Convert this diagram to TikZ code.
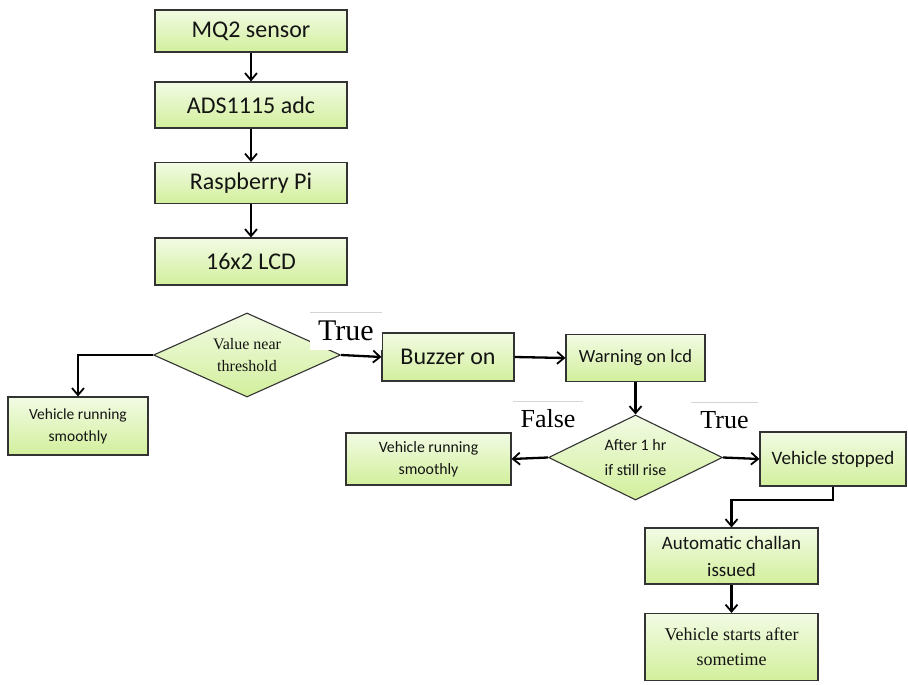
\documentclass[tikz,border=0pt]{standalone}
\usepackage{fontspec}
\setmainfont{Liberation Serif}
\newfontfamily\calib{Carlito}
\usetikzlibrary{shapes.geometric,arrows.meta,calc}
\definecolor{boxtop}{HTML}{F2FBE4}
\definecolor{boxbot}{HTML}{D2EF9C}
\definecolor{boxline}{HTML}{333333}
\definecolor{txt}{HTML}{141414}
\definecolor{faint}{HTML}{D4D4D4}
\tikzset{
  box/.style={draw=boxline, line width=1.1pt, top color=boxtop, bottom color=boxbot,
    align=center, inner sep=2pt, text=txt},
  dia/.style={box, diamond, inner sep=0pt, shading angle=0},
  arr/.style={line width=2.3pt, -{Straight Barb[length=7pt,width=12pt,line width=1.8pt]}},
  lbl/.style={fill=white, inner sep=0pt, text=black, font=\fontsize{26}{30}\selectfont},
  faintline/.style={draw=faint, line width=0.6pt}
}
\begin{document}
\begin{tikzpicture}[x=1pt,y=-1pt]
\useasboundingbox[fill=white] (0,0) rectangle (908,685);

% top chain
\node[box, minimum width=192pt, minimum height=42pt, font=\calib\fontsize{24}{28}\selectfont] (mq2) at (251,31) {MQ2 sensor};
\node[box, minimum width=192pt, minimum height=46pt, font=\calib\fontsize{24}{28}\selectfont] (ads) at (251,105) {ADS1115 adc};
\node[box, minimum width=192pt, minimum height=41pt, font=\calib\fontsize{24}{28}\selectfont] (rpi) at (251,183) {Raspberry Pi};
\node[box, minimum width=192pt, minimum height=47pt, font=\calib\fontsize{24}{28}\selectfont] (lcd) at (251,261.5) {16x2 LCD};
\draw[arr] (mq2.south) -- (ads.north);
\draw[arr] (ads.south) -- (rpi.north);
\draw[arr] (rpi.south) -- (lcd.north);

% first decision
\node[dia, minimum width=187pt, minimum height=84pt, aspect=2.2, font=\fontsize{16}{22}\selectfont] (d1) at (247,355) {Value near\\threshold};
\node[box, minimum width=140pt, minimum height=58pt, font=\calib\fontsize{15.5}{22}\selectfont] (vrs1) at (78,426) {Vehicle running\\smoothly};
\node[box, minimum width=132pt, minimum height=48pt, font=\calib\fontsize{24}{28}\selectfont] (buzz) at (448,357) {Buzzer on};
\node[box, minimum width=139pt, minimum height=47pt, font=\calib\fontsize{18.5}{22}\selectfont] (warn) at (635.5,358) {Warning on lcd};
\node[lbl, minimum width=72pt, minimum height=38pt, font=\fontsize{30}{34}\selectfont] (t1) at (346,331) {True};
\draw[faintline] (t1.north west) -- (t1.north east);

\draw[arr] (d1.west) -| (vrs1.north);
\draw[arr] (d1.east) -- (buzz.west);
\draw[arr] (buzz.east) -- (warn.west);

% second decision
\node[dia, minimum width=174pt, minimum height=85pt, aspect=2.05, font=\calib\fontsize{16}{25}\selectfont] (d2) at (635.5,457.5) {After 1 hr\\if still rise};
\node[box, minimum width=165pt, minimum height=52pt, font=\calib\fontsize{15.8}{22}\selectfont] (vrs2) at (428.5,459) {Vehicle running\\smoothly};
\node[box, minimum width=146pt, minimum height=54pt, font=\calib\fontsize{19}{22}\selectfont] (stop) at (833,459) {Vehicle stopped};
\node[lbl, minimum width=70pt, minimum height=36pt] (f2) at (548,419) {False};
\draw[faintline] (f2.north west) -- (f2.north east);
\node[lbl, minimum width=66pt, minimum height=36pt] (t2) at (724.5,420) {True};
\draw[faintline] (t2.north west) -- (t2.north east);

\draw[arr] (warn.south) -- (d2.north);
\draw[arr] (d2.west) -- (vrs2.east);
\draw[arr] (d2.east) -- (stop.west);

% final chain
\node[box, minimum width=173pt, minimum height=56pt, font=\calib\fontsize{19}{27}\selectfont] (chal) at (731.5,556) {Automatic challan\\issued};
\node[box, minimum width=173pt, minimum height=67pt, font=\fontsize{18}{25}\selectfont] (start) at (731.5,647) {Vehicle starts after\\sometime};
\coordinate (bend) at (833,500);
\draw[arr] (stop.south) -- (bend) -| (chal.north);
\draw[arr] (chal.south) -- (start.north);
\end{tikzpicture}
\end{document}
